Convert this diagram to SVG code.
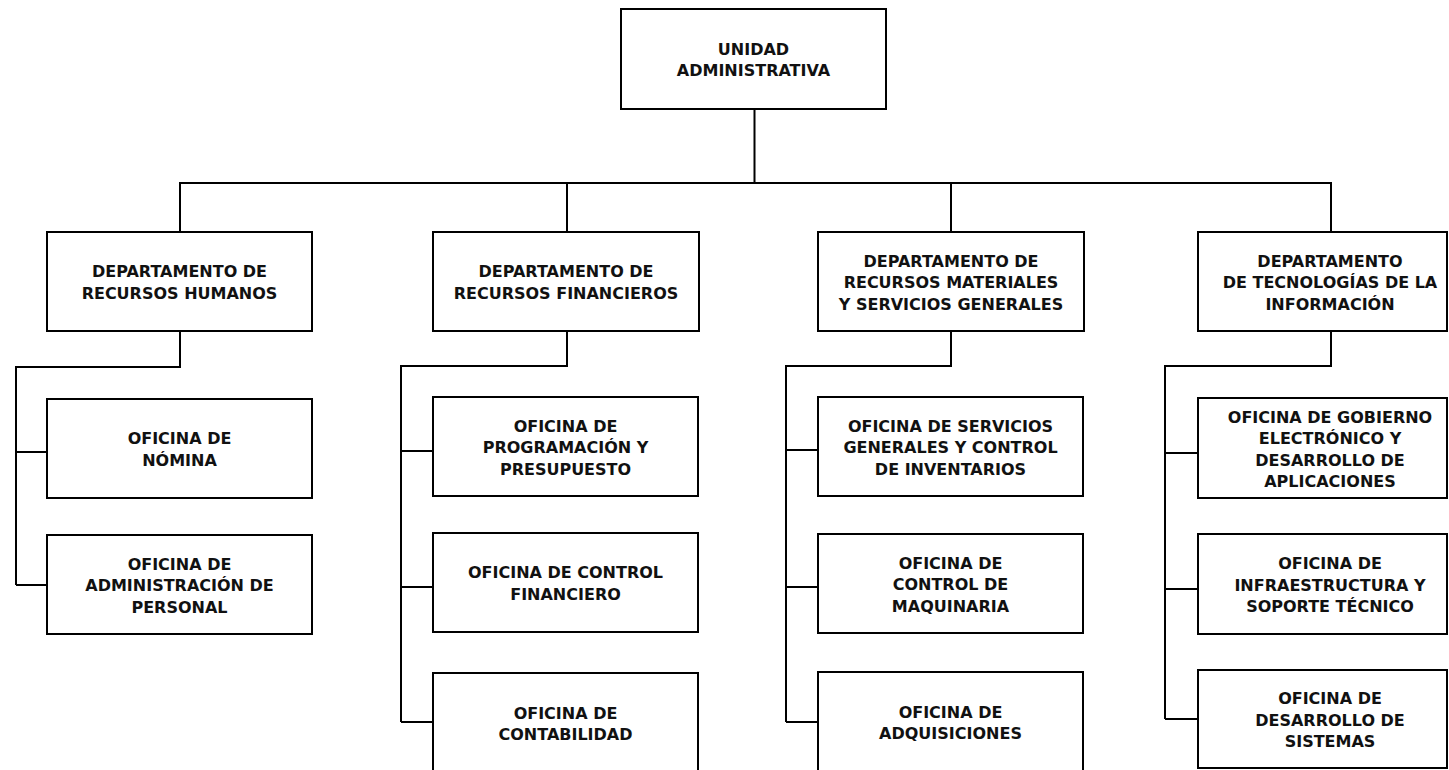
<svg xmlns="http://www.w3.org/2000/svg" width="1449" height="770" viewBox="0 0 1449 770">
<style>
.box{fill:#fff;stroke:#000;stroke-width:2}
.lbl{font-family:"DejaVu Sans",sans-serif;font-weight:bold;font-size:16px;fill:#111;text-anchor:middle}
.conn{fill:none;stroke:#000;stroke-width:2}
</style>
<rect width="1449" height="770" fill="#fff"/>
<g id="connectors" class="conn">
<path d="M754.5 109V183M179 183H1332M180 183V232M567 183V232M951 183V232M1331 183V232"/>
<path d="M180 331V367H16V585M16 452H47M16 585H47"/>
<path d="M567 331V366H401V722M401 451H433M401 587H433M401 722H433"/>
<path d="M951 331V366H786V722M786 450H818M786 587H818M786 722H818"/>
<path d="M1331 331V366H1165V719M1165 453H1198M1165 589H1198M1165 719H1198"/>
</g>
<g id="n-top"><rect class="box" x="621" y="9" width="265" height="100"/><text class="lbl" x="753.5" y="54.75">UNIDAD<tspan x="753.5" y="76.25">ADMINISTRATIVA</tspan></text></g>
<g id="n-d1"><rect class="box" x="47" y="232" width="265" height="99"/><text class="lbl" x="179.5" y="277.25">DEPARTAMENTO DE<tspan x="179.5" y="298.75">RECURSOS HUMANOS</tspan></text></g>
<g id="n-d2"><rect class="box" x="433" y="232" width="266" height="99"/><text class="lbl" x="566" y="277.25">DEPARTAMENTO DE<tspan x="566" y="298.75">RECURSOS FINANCIEROS</tspan></text></g>
<g id="n-d3"><rect class="box" x="818" y="232" width="266" height="99"/><text class="lbl" x="951" y="266.5">DEPARTAMENTO DE<tspan x="951" y="288">RECURSOS MATERIALES</tspan><tspan x="951" y="309.5">Y SERVICIOS GENERALES</tspan></text></g>
<g id="n-d4"><rect class="box" x="1198" y="232" width="249" height="99"/><text class="lbl" x="1330" y="266.5">DEPARTAMENTO<tspan x="1330" y="288">DE TECNOLOGÍAS DE LA</tspan><tspan x="1330" y="309.5">INFORMACIÓN</tspan></text></g>
<g id="n-d1c1"><rect class="box" x="47" y="399" width="265" height="99"/><text class="lbl" x="179.5" y="444.25">OFICINA DE<tspan x="179.5" y="465.75">NÓMINA</tspan></text></g>
<g id="n-d1c2"><rect class="box" x="47" y="535" width="265" height="99"/><text class="lbl" x="179.5" y="569.5">OFICINA DE<tspan x="179.5" y="591">ADMINISTRACIÓN DE</tspan><tspan x="179.5" y="612.5">PERSONAL</tspan></text></g>
<g id="n-d2c1"><rect class="box" x="433" y="397" width="265" height="99"/><text class="lbl" x="565.5" y="431.5">OFICINA DE<tspan x="565.5" y="453">PROGRAMACIÓN Y</tspan><tspan x="565.5" y="474.5">PRESUPUESTO</tspan></text></g>
<g id="n-d2c2"><rect class="box" x="433" y="533" width="265" height="99"/><text class="lbl" x="565.5" y="578.25">OFICINA DE CONTROL<tspan x="565.5" y="599.75">FINANCIERO</tspan></text></g>
<g id="n-d2c3"><rect class="box" x="433" y="673" width="265" height="100"/><text class="lbl" x="565.5" y="718.75">OFICINA DE<tspan x="565.5" y="740.25">CONTABILIDAD</tspan></text></g>
<g id="n-d3c1"><rect class="box" x="818" y="397" width="265" height="99"/><text class="lbl" x="950.5" y="431.5">OFICINA DE SERVICIOS<tspan x="950.5" y="453">GENERALES Y CONTROL</tspan><tspan x="950.5" y="474.5">DE INVENTARIOS</tspan></text></g>
<g id="n-d3c2"><rect class="box" x="818" y="534" width="265" height="99"/><text class="lbl" x="950.5" y="568.5">OFICINA DE<tspan x="950.5" y="590">CONTROL DE</tspan><tspan x="950.5" y="611.5">MAQUINARIA</tspan></text></g>
<g id="n-d3c3"><rect class="box" x="818" y="672" width="265" height="100"/><text class="lbl" x="950.5" y="717.75">OFICINA DE<tspan x="950.5" y="739.25">ADQUISICIONES</tspan></text></g>
<g id="n-d4c1"><rect class="box" x="1198" y="398" width="249" height="100"/><text class="lbl" x="1330" y="422.75">OFICINA DE GOBIERNO<tspan x="1330" y="444.25">ELECTRÓNICO Y</tspan><tspan x="1330" y="465.75">DESARROLLO DE</tspan><tspan x="1330" y="487.25">APLICACIONES</tspan></text></g>
<g id="n-d4c2"><rect class="box" x="1198" y="534" width="249" height="100"/><text class="lbl" x="1330" y="569">OFICINA DE<tspan x="1330" y="590.5">INFRAESTRUCTURA Y</tspan><tspan x="1330" y="612">SOPORTE TÉCNICO</tspan></text></g>
<g id="n-d4c3"><rect class="box" x="1198" y="670" width="249" height="98"/><text class="lbl" x="1330" y="704">OFICINA DE<tspan x="1330" y="725.5">DESARROLLO DE</tspan><tspan x="1330" y="747">SISTEMAS</tspan></text></g>
</svg>
